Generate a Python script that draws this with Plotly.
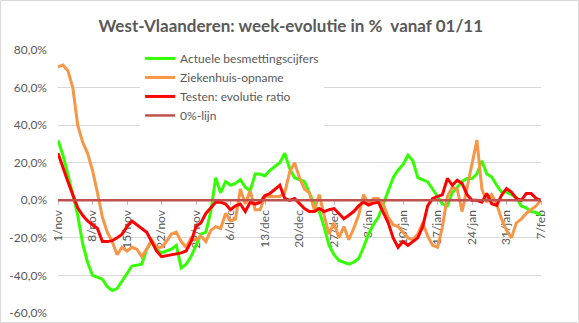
import pandas as pd
import plotly.graph_objects as go

title_text = "West-Vlaanderen: week-evolutie in %  vanaf 01/11"
start_date = "2020-11-01"
n_days = 99

tick_labels = ["1/nov", "8/nov", "15/nov", "22/nov", "29/nov", "6/dec", "13/dec",
               "20/dec", "27/dec", "3/jan", "10/jan", "17/jan", "24/jan", "31/jan", "7/feb"]

y_ticks = [-60, -40, -20, 0, 20, 40, 60, 80]
y_tick_labels = ["-60,0%", "-40,0%", "-20,0%", "0,0%", "20,0%", "40,0%", "60,0%", "80,0%"]

besmettingen = [32, 24, 14, 3, -8, -23, -33, -40, -41, -42,
                -46, -48, -47, -43, -39, -35, -34.5, -34, -26, -22,
                -26, -28, -27, -26, -24, -36, -34, -30, -24, -18,
                -17, -6, 12, 4, 10, 8, 9, 11, 7, 5,
                14, 14, 13, 16, 18, 20, 25, 17, 12, 11,
                10, 4, -2, -6, -14, -24, -29, -32, -33, -34,
                -33, -31, -25, -18, -13, -9, -2, 5, 12, 16,
                19, 24, 21, 12, 11, 9.8, 6, 2, -2, -3,
                4, 7, 10, 11.6, 11.6, 14, 21, 14, 12.4, 8,
                4.4, 4.4, 3, 1.5, -3, -4, -6, -6.5, -8]

ziekenhuis = [71, 72, 69, 60, 40, 31, 25, 16, 4, -9,
              -17, -22, -29, -25, -27, -25, -26, -30, -26, -21,
              -25, -25, -22, -18, -17, -22, -25, -20, -21, -19,
              -22, -16, -14, -15, -7, -11, -10, 6, -2, 5,
              -5, -5, 2, 2, 2, 2, 4, 15, 20, 12,
              6, 4, -5, 3, -8, -18, -12, -20, -14, -21,
              -15, -8, 3, -2, 1, 1, -2, -9, -13, -14,
              -17, -20, -21, -18, -12, -19, -24, -25, -14, 2,
              7, 6, -6, 7, 18, 32, 6, -1, 3, -2,
              -10, -16, -20, -12, -10, -7, -5, -3, 0]

testen = [25, 17, 10, 3, -4, -8, -11, -13, -15, -22,
          -22, -21.5, -20, -18, -14, -11, -13, -15, -17, -22,
          -27, -30, -29.5, -29, -28.5, -28, -27, -22, -14, -12,
          -7, -4, -1, -1, -2, -5, -3, -2, -6, -1,
          -2, -1, 2.5, 3.6, 6, 8, 1, 0, 1, -2,
          -4.4, -6, -6, -4.4, -6, -5, -4.4, -7, -9.8, -8,
          -6, -3, -1, -2.5, -1.5, -1, -7, -12, -20, -25,
          -22, -24, -22, -20, -14, -3, 1, 1.8, 3, 11.6,
          8, 10.7, 8.9, 3, 0, 0, -1, 3.6, -1.8, -2.7,
          2.7, 6.2, 4.4, 1, 0, 3.6, 3.6, 1, 0]

nul_lijn = [0] * n_days

dates = pd.date_range(start_date, periods=n_days, freq="D")

FONT = "Lato, 'Open Sans', sans-serif"
GRAY = "#595959"

fig = go.Figure()
series = [
    ("Actuele besmettingscijfers", besmettingen, "#33FF00", 3),
    ("Ziekenhuis-opname", ziekenhuis, "#F79646", 3),
    ("Testen: evolutie ratio", testen, "#FF0000", 3),
    ("0%-lijn", nul_lijn, "#C0504D", 2.5),
]
for name, vals, color, w in series:
    fig.add_trace(go.Scatter(x=dates, y=[v / 100 for v in vals], mode="lines", name=name,
                             line=dict(color=color, width=w)))

ypos = 60 / 140  # 0% within the -60..80 range

fig.update_layout(
    width=579, height=323,
    margin=dict(l=58, r=38, t=50, b=10, autoexpand=False),
    paper_bgcolor="white", plot_bgcolor="white",
    title=dict(text="<b>" + title_text + "</b>", x=0.482, xanchor="center", xref="paper",
               y=0.92, yref="container", yanchor="middle",
               font=dict(family=FONT, size=17, color=GRAY)),
    font=dict(family=FONT, size=12, color=GRAY),
    showlegend=True,
    legend=dict(x=0.17, y=1.023, xanchor="left", yanchor="top", bgcolor="white",
                font=dict(family=FONT, size=12, color=GRAY), tracegroupgap=0,
                itemwidth=30),
    xaxis=dict(range=[dates[0], dates[-1]], tickvals=dates[::7], ticktext=tick_labels,
               tickangle=-90, showgrid=False, zeroline=False, showline=False,
               anchor="free", position=ypos, ticks="outside", ticklen=4,
               tickcolor="#BFBFBF", layer="below traces", automargin=False,
               tickfont=dict(family=FONT, size=12, color=GRAY)),
    yaxis=dict(range=[-0.6, 0.8], tickvals=[v / 100 for v in y_ticks], ticktext=y_tick_labels,
               showgrid=True, gridcolor="#D9D9D9", gridwidth=1, zeroline=False,
               showline=False, ticks="", ticklabelstandoff=10, automargin=False,
               tickfont=dict(family=FONT, size=12, color=GRAY)),
    shapes=[dict(type="rect", xref="paper", yref="paper",
                 x0=-0.119, x1=1.0776, y0=-0.036, y1=1.188,
                 line=dict(color="#D9D9D9", width=1), layer="below")],
)

fig.write_html("out.html")
